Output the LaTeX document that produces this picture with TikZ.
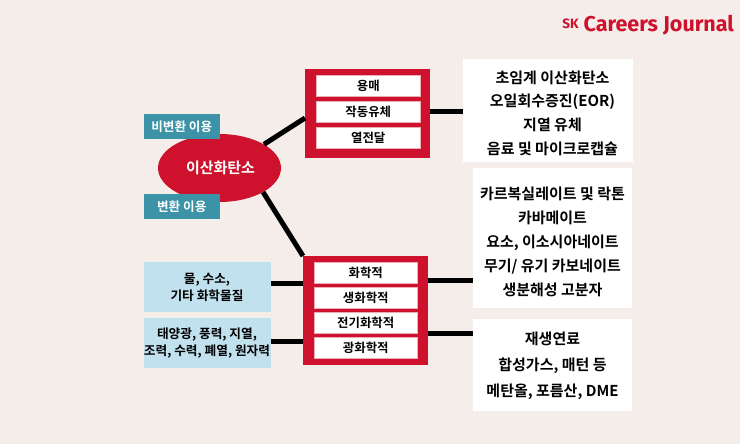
\documentclass[tikz,border=0pt]{standalone}
\usepackage{fontspec}
\usetikzlibrary{shapes.geometric}
\setmainfont{Noto Sans CJK KR}[BoldFont={Noto Sans CJK KR Bold}]
\newfontfamily\logofont{Fira Sans}[BoldFont={Fira Sans Bold}]
\definecolor{bgc}{HTML}{F5EDEA}
\definecolor{redc}{HTML}{CE112D}
\definecolor{tealc}{HTML}{3C93A8}
\definecolor{bluec}{HTML}{C2E1EE}
\tikzset{
 x=1pt,y=-1pt,
 box/.style={rectangle,inner sep=0pt,outer sep=0pt,anchor=north west,align=center},
 redbox/.style={box,fill=redc},
 item/.style={box,fill=white,draw=redc!35!white,line width=0.5pt,font=\bfseries\fontsize{12.4}{13}\selectfont,text=black,minimum width=103.5pt,minimum height=21pt},
 tealbox/.style={box,fill=tealc,text=white,font=\bfseries\fontsize{12.6}{14}\selectfont,minimum width=76.5pt,minimum height=25pt},
 lightbox/.style={box,fill=bluec,text=black,font=\bfseries\fontsize{12.7}{17}\selectfont,minimum width=127pt,minimum height=50pt},
 whitebox/.style={box,fill=white},
 listtext/.style={inner sep=0pt,align=center,text=black},
 link/.style={draw=black,line width=5pt},
}
\begin{document}
\begin{tikzpicture}
\useasboundingbox (0,0) rectangle (740,444);
\fill[bgc] (0,0) rectangle (740,444);
\node[anchor=east,inner sep=0pt,text=redc] (logo) at (734,25) {\logofont\bfseries{\fontsize{13.5}{13.5}\selectfont\raisebox{3pt}{SK}}\hspace{5pt}\fontsize{21.5}{22}\selectfont Careers Journal};
% boxes
\node[redbox,minimum width=125pt,minimum height=89pt] (topred) at (305,69) {};
\node[redbox,minimum width=125pt,minimum height=109pt] (botred) at (303,256) {};
\node[whitebox,minimum width=170pt,minimum height=103pt] (w1) at (463,59) {};
\node[listtext,font=\bfseries\fontsize{15}{23.6}\selectfont] (w1t) at (552.5,113) {초임계 이산화탄소\\오일회수증진(EOR)\\지열 유체\\음료 및 마이크로캡슐};
\node[whitebox,minimum width=159pt,minimum height=140pt] (w2) at (473,168) {};
\node[listtext,font=\bfseries\fontsize{15}{24}\selectfont] (w2t) at (552.5,241.5) {카르복실레이트 및 락톤\\카바메이트\\요소, 이소시아네이트\\무기/ 유기 카보네이트\\생분해성 고분자};
\node[whitebox,minimum width=159pt,minimum height=92pt] (w3) at (473,319) {};
\node[listtext,font=\bfseries\fontsize{15}{26}\selectfont] (w3t) at (552.5,366) {재생연료\\합성가스, 매턴 등\\메탄올, 포름산, DME};
\node[lightbox] (l1) at (143.5,262) {물, 수소,\\기타 화학물질};
\node[lightbox] (l2) at (143.5,318) {태양광, 풍력, 지열,\\조력, 수력, 폐열, 원자력};
\node[ellipse,fill=redc,inner sep=0pt,minimum width=123pt,minimum height=68pt,text=white,font=\bfseries\fontsize{15}{17}\selectfont] (co2) at (219.5,168) {\hspace{2pt}이산화탄소};
\node[tealbox] (t1) at (143.5,114) {비변환 이용};
\node[tealbox] (t2) at (143.5,194) {변환 이용};
% connectors
\draw[link] (co2.28) -- (topred.west |- 0,118);
\draw[link] (co2.-29) -- (botred.north west);
\draw[link] (topred.east |- 0,112) -- (w1.west |- 0,112);
\draw[link] (botred.east |- 0,280) -- (w2.west |- 0,280);
\draw[link] (botred.east |- 0,333) -- (w3.west |- 0,333);
\draw[link] (l1.east |- 0,283) -- (botred.west |- 0,283);
\draw[link] (l2.east |- 0,341) -- (botred.west |- 0,341);
% items
\node[item] (a1) at (316.5,75.5) {용매};
\node[item] (a2) at (316.5,101.5) {작동유체};
\node[item] (a3) at (316.5,127) {열전달};
\node[item] (b1) at (314,262) {화학적};
\node[item] (b2) at (314,287) {생화학적};
\node[item] (b3) at (314,312) {전기화학적};
\node[item] (b4) at (314,337.5) {광화학적};
\end{tikzpicture}
\end{document}
